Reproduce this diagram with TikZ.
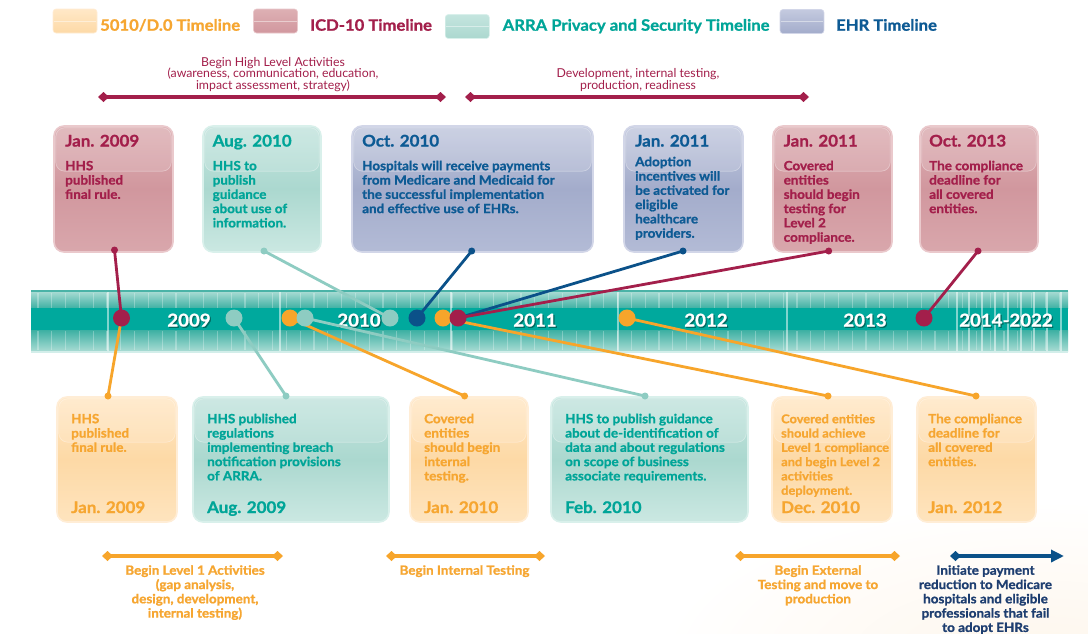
\documentclass[tikz,border=0pt]{standalone}
\usepackage{fontspec}
\setmainfont{Lato}[BoldFeatures={FakeBold=1.1,FakeStretch=1.06}]
\usetikzlibrary{arrows.meta,calc}
\newcommand{\tightls}{\lineskiplimit=-50pt\relax}

\definecolor{cRed}{HTML}{A31F4B}
\definecolor{cOrg}{HTML}{F6A631}
\definecolor{cTeal}{HTML}{00A598}
\definecolor{cBlue}{HTML}{0D5A94}
\definecolor{cNavy}{HTML}{1E3E70}
\definecolor{lnRed}{HTML}{A31F4B}
\definecolor{lnOrg}{HTML}{F7A52B}
\definecolor{lnTeal}{HTML}{8ECCC2}
\definecolor{lnBlue}{HTML}{0B5189}
\definecolor{rT}{HTML}{DDB0B4}
\definecolor{rM}{HTML}{D1979E}
\definecolor{rB}{HTML}{D9A7AC}
\definecolor{rE}{HTML}{EAC9CC}
\definecolor{tT}{HTML}{C5E5DF}
\definecolor{tM}{HTML}{ABD8CF}
\definecolor{tB}{HTML}{CBE8E2}
\definecolor{tE}{HTML}{D9F0EB}
\definecolor{bT}{HTML}{C4CADF}
\definecolor{bM}{HTML}{A3ACCB}
\definecolor{bB}{HTML}{B3BBD6}
\definecolor{bE}{HTML}{D2D6E8}
\definecolor{oT}{HTML}{FFE8C7}
\definecolor{oM}{HTML}{FDD9A6}
\definecolor{oB}{HTML}{FEE4BE}
\definecolor{oE}{HTML}{FFEDD6}
\definecolor{barM}{HTML}{00A99D}
\definecolor{barL}{HTML}{A8DBD3}
\definecolor{barD}{HTML}{3FB1A4}
\definecolor{barEdge}{HTML}{4AB3A7}
\definecolor{barBot}{HTML}{D3EEEA}
\definecolor{yrSh}{HTML}{006B62}
\definecolor{glow}{HTML}{FEF6EC}

\begin{document}
\begin{tikzpicture}[x=1pt,y=-1pt,
  box/.style={rectangle, rounded corners=10pt, inner sep=0pt, line width=1.6pt},
  boxR/.style={box, top color=rT, bottom color=rB, middle color=rM, draw=rE},
  boxT/.style={box, top color=tT, bottom color=tB, middle color=tM, draw=tE},
  boxB/.style={box, top color=bT, bottom color=bB, middle color=bM, draw=bE},
  boxO/.style={box, top color=oT, bottom color=oB, middle color=oM, draw=oE},
  topbox/.style={minimum height=126pt},
  botbox/.style={minimum height=125pt},
  gloss/.style={fill=white, fill opacity=.14, draw=white, draw opacity=.35, line width=.7pt, rounded corners=9pt},
  ttl/.style={font=\fontsize{16}{19}\selectfont\bfseries, inner sep=0pt, anchor=base west},
  body/.style={font=\fontsize{12.7}{14.3}\selectfont\bfseries\tightls, inner sep=0pt, anchor=north west, align=left},
  lbl/.style={font=\fontsize{12.7}{14.3}\selectfont\bfseries\tightls, inner sep=0pt, anchor=north, align=center},
  rng/.style={font=\fontsize{12.3}{11.7}\selectfont\tightls, inner sep=0pt, anchor=north, align=center, text=cRed},
  leg/.style={font=\fontsize{15.7}{18}\selectfont\bfseries, inner sep=0pt, anchor=base west},
  swatch/.style={rectangle, rounded corners=3pt, inner sep=0pt, minimum width=44pt, minimum height=24pt},
  yr/.style={font=\fontsize{17.6}{20}\selectfont\bfseries, inner sep=0pt, anchor=base},
  tdot/.style={circle, inner sep=0pt, minimum size=17pt, fill=#1},
  edot/.style={circle, inner sep=0pt, minimum size=7pt, fill=#1},
  conn/.style={line width=2.8pt, draw=#1},
  rngline/.style={line width=4pt, draw=#1, {Diamond[length=11pt,width=10pt]}-{Diamond[length=11pt,width=10pt]}},
  rngarrow/.style={line width=4pt, draw=#1, {Diamond[length=11pt,width=10pt]}-{Triangle[length=13pt,width=12pt]}}
]
\useasboundingbox (0,0) rectangle (1088,633);
\fill[white] (0,0) rectangle (1088,633);
\begin{scope}
  \clip (0,0) rectangle (1088,633);
  \shade[inner color=glow, outer color=white] (1040,660) ellipse[x radius=380pt, y radius=160pt];
\end{scope}

% ---------------- legend
\node[swatch, top color=oT, bottom color=oM, draw=oE, line width=.6pt] (sw1) at (75,21) {};
\node[swatch, top color=rT, bottom color=rM, draw=rE, line width=.6pt] (sw2) at (275.5,21) {};
\node[swatch, top color=tT, bottom color=tM, draw=tE, line width=.6pt] (sw3) at (467.3,26.5) {};
\node[swatch, top color=bT, bottom color=bM, draw=bE, line width=.6pt] (sw4) at (802,21.5) {};
\foreach \s in {sw1,sw2,sw3,sw4}{
  \draw[white, opacity=.45, line width=.8pt] ($(\s.west)+(1,0)$) -- ($(\s.east)+(-1,0)$);
}
\node[leg, text=cOrg] (lg1) at (100,30.7) {5010/D.0 Timeline};
\node[leg, text=cRed] (lg2) at (310,30.7) {ICD-10 Timeline};
\node[leg, text=cTeal] (lg3) at (502.5,30.7) {ARRA Privacy and Security Timeline};
\node[leg, text=cBlue] (lg4) at (836,30.7) {EHR Timeline};

% ---------------- top range lines
\node[rng] (rt1) at (273,56.8) {\strut Begin High Level Activities\\(awareness, communication, education,\\impact assessment, strategy)};
\node[rng] (rt2) at (638,68.3) {\strut Development, internal testing,\\production, readiness};
\coordinate (r1a) at (98,97);  \coordinate (r1b) at (446,97);
\coordinate (r2a) at (465,97); \coordinate (r2b) at (809,97);
\draw[rngline=cRed] (r1a) -- (r1b);
\draw[rngline=cRed] (r2a) -- (r2b);

% ---------------- top boxes
\node[boxR, topbox, minimum width=119pt] (T1) at (113.5,189) {};
\node[boxT, topbox, minimum width=118pt] (T2) at (262,189) {};
\node[boxB, topbox, minimum width=241pt] (T3) at (472.5,189) {};
\node[boxB, topbox, minimum width=119pt] (T4) at (683.5,189) {};
\node[boxR, topbox, minimum width=119pt] (T5) at (832.5,189) {};
\node[boxR, topbox, minimum width=118pt] (T6) at (979,189) {};
\foreach \b in {T1,T2,T3,T4,T5,T6}{
  \path[gloss] ($(\b.north west)+(2.5,2.5)$) rectangle ($(\b.north east)+(-2.5,46)$);
}
\node[ttl, text=cRed]  (T1h) at (65,146.5) {Jan. 2009};
\node[body, text=cRed] (T1x) at (65,160) {\strut HHS\\published\\final rule.};
\node[ttl, text=cTeal]  (T2h) at (212.5,146.5) {Aug. 2010};
\node[body, text=cTeal] (T2x) at (212.5,160) {\strut HHS to\\publish\\guidance\\about use of\\information.};
\node[ttl, text=cBlue]  (T3h) at (362,146.5) {Oct. 2010};
\node[body, text=cBlue] (T3x) at (362,160) {\strut Hospitals will receive payments\\from Medicare and Medicaid for\\the successful implementation\\and effective use of EHRs.};
\node[ttl, text=cBlue]  (T4h) at (635,146.5) {Jan. 2011};
\node[body, text=cBlue] (T4x) at (635,156) {\strut Adoption\\incentives will\\be activated for\\eligible\\healthcare\\providers.};
\node[ttl, text=cRed]  (T5h) at (783.5,146.5) {Jan. 2011};
\node[body, text=cRed] (T5x) at (783.5,160) {\strut Covered\\entities\\should begin\\testing for\\Level 2\\compliance.};
\node[ttl, text=cRed]  (T6h) at (929,146.5) {Oct. 2013};
\node[body, text=cRed] (T6x) at (929,160) {\strut The compliance\\deadline for\\all covered\\entities.};

% ---------------- bottom boxes
\node[boxO, botbox, minimum width=120pt] (B1) at (117,459.5) {};
\node[boxT, botbox, minimum width=196pt] (B2) at (291,459.5) {};
\node[boxO, botbox, minimum width=118pt] (B3) at (469,459.5) {};
\node[boxT, botbox, minimum width=197pt] (B4) at (649.5,459.5) {};
\node[boxO, botbox, minimum width=120pt] (B5) at (832,459.5) {};
\node[boxO, botbox, minimum width=119pt] (B6) at (976.5,459.5) {};
\foreach \b in {B1,B2,B3,B4,B5,B6}{
  \path[gloss] ($(\b.north west)+(2.5,2.5)$) rectangle ($(\b.north east)+(-2.5,46)$);
}
\node[body, text=cOrg] (B1x) at (71,413) {\strut HHS\\published\\final rule.};
\node[ttl, text=cOrg]  (B1h) at (71,513) {Jan. 2009};
\node[body, text=cTeal] (B2x) at (207,413) {\strut HHS published\\regulations\\implementing breach\\notification provisions\\of ARRA.};
\node[ttl, text=cTeal]  (B2h) at (207,513) {Aug. 2009};
\node[body, text=cOrg] (B3x) at (424,413) {\strut Covered\\entities\\should begin\\internal\\testing.};
\node[ttl, text=cOrg]  (B3h) at (424,513) {Jan. 2010};
\node[body, text=cTeal] (B4x) at (565,413) {\strut HHS to publish guidance\\about de-identification of\\data and about regulations\\on scope of business\\associate requirements.};
\node[ttl, text=cTeal]  (B4h) at (565,513) {Feb. 2010};
\node[body, text=cOrg, font=\fontsize{12.1}{14.3}\selectfont\bfseries\tightls] (B5x) at (781,413) {\strut Covered entities\\should achieve\\Level 1 compliance\\and begin Level 2\\activities\\deployment.};
\node[ttl, text=cOrg]  (B5h) at (781,513) {Dec. 2010};
\node[body, text=cOrg] (B6x) at (928,413) {\strut The compliance\\deadline for\\all covered\\entities.};
\node[ttl, text=cOrg]  (B6h) at (928,513) {Jan. 2012};

% ---------------- bottom range lines
\coordinate (s1a) at (102,556); \coordinate (s1b) at (283,556);
\coordinate (s2a) at (386,556); \coordinate (s2b) at (545,556);
\coordinate (s3a) at (735,556); \coordinate (s3b) at (900,556);
\coordinate (s4a) at (950,556); \coordinate (s4b) at (1064,556);
\draw[rngline=lnOrg] (s1a) -- (s1b);
\draw[rngline=lnOrg] (s2a) -- (s2b);
\draw[rngline=lnOrg] (s3a) -- (s3b);
\draw[rngarrow=lnBlue] (s4a) -- (s4b);
\node[lbl, text=cOrg] (S1t) at (195,564.5) {\strut Begin Level 1 Activities\\(gap analysis,\\design, development,\\internal testing)};
\node[lbl, text=cOrg] (S2t) at (464.5,564.5) {\strut Begin Internal Testing};
\node[lbl, text=cOrg] (S3t) at (818,564.5) {\strut Begin External\\Testing and move to\\production};
\node[lbl, text=cNavy] (S4t) at (985.5,564.5) {\strut Initiate payment\\reduction to Medicare\\hospitals and eligible\\professionals that fail\\to adopt EHRs};

% ---------------- timeline bar
\node[rectangle, inner sep=0pt, minimum width=1037pt, minimum height=63pt, fill=barL] (bar) at (549.5,321.5) {};
\shade[top color=barL, bottom color=barD] (31,291.5) rectangle (1068,308);
\fill[barM] (31,308) rectangle (1068,330.5);
\shade[top color=barD, bottom color=barL] (31,330.5) rectangle (1068,351);
\fill[barEdge] (31,290) rectangle (1068,291.5);
\fill[barBot] (31,351) rectangle (1068,353);
\foreach \x in {38,51.8,...,1060}{
  \draw[white, opacity=.28, line width=1.3pt] (\x,293) -- (\x,307.5);
  \draw[white, opacity=.28, line width=1.3pt] (\x,331) -- (\x,350);
}
\foreach \x in {108,280,451,618,787,957,969,982,995,1008,1021,1034,1047,1061}{
  \draw[white, opacity=.5, line width=2pt] (\x,292) -- (\x,351);
}
\node[yr, text=yrSh] (Y1s) at (190.2,327.8) {2009};
\node[yr, text=yrSh] (Y2s) at (360.2,327.8) {2010};
\node[yr, text=yrSh] (Y3s) at (536.2,327.8) {2011};
\node[yr, text=yrSh] (Y4s) at (707.2,327.8) {2012};
\node[yr, text=yrSh] (Y5s) at (866.2,327.8) {2013};
\node[yr, text=yrSh] (Y6s) at (1007.2,327.8) {2014-2022};
\node[yr, text=white] (Y1) at (189,326.5) {2009};
\node[yr, text=white] (Y2) at (359,326.5) {2010};
\node[yr, text=white] (Y3) at (535,326.5) {2011};
\node[yr, text=white] (Y4) at (706,326.5) {2012};
\node[yr, text=white] (Y5) at (865,326.5) {2013};
\node[yr, text=white] (Y6) at (1006,326.5) {2014-2022};

% ---------------- dot positions
\coordinate (p1) at (121.5,318);
\coordinate (p2) at (234,318);
\coordinate (p3) at (290,318);
\coordinate (p4) at (305,318);
\coordinate (p5) at (390,318);
\coordinate (p6) at (417,318);
\coordinate (p7) at (443,318);
\coordinate (p8) at (458,318);
\coordinate (p9) at (627,318);
\coordinate (p10) at (924,318);
\coordinate (eT1) at (114.5,250);
\coordinate (eT2) at (264,251);
\coordinate (eT3) at (471.7,251);
\coordinate (eT4) at (683,251);
\coordinate (eT5) at (828.7,251);
\coordinate (eT6) at (978,251);
\coordinate (eB1) at (108,396);
\coordinate (eB2) at (286,396);
\coordinate (eB3) at (464.6,396);
\coordinate (eB4) at (645,396);
\coordinate (eB5) at (828,396);
\coordinate (eB6) at (976,396);

% ---------------- connectors
\draw[conn=lnOrg]  (p1) -- (eB1);
\draw[conn=lnTeal] (p2) -- (eB2);
\draw[conn=lnOrg]  (p3) -- (eB3);
\draw[conn=lnTeal] (p4) -- (eB4);
\draw[conn=lnOrg]  (p7) -- (eB5);
\draw[conn=lnOrg]  (p9) -- (eB6);
\draw[conn=lnRed]  (eT1) -- (p1);
\draw[conn=lnTeal] (eT2) -- (p5);
\draw[conn=lnBlue] (eT3) -- (p6);
\draw[conn=lnBlue] (eT4) -- (p8);
\draw[conn=lnRed]  (eT5) -- (p8);
\draw[conn=lnRed]  (eT6) -- (p10);

% ---------------- end dots
\node[edot=lnRed]  (eT1d) at (eT1) {};
\node[edot=lnTeal] (eT2d) at (eT2) {};
\node[edot=lnBlue] (eT3d) at (eT3) {};
\node[edot=lnBlue] (eT4d) at (eT4) {};
\node[edot=lnRed]  (eT5d) at (eT5) {};
\node[edot=lnRed]  (eT6d) at (eT6) {};
\node[edot=lnOrg]  (eB1d) at (eB1) {};
\node[edot=lnTeal] (eB2d) at (eB2) {};
\node[edot=lnOrg]  (eB3d) at (eB3) {};
\node[edot=lnTeal] (eB4d) at (eB4) {};
\node[edot=lnOrg]  (eB5d) at (eB5) {};
\node[edot=lnOrg]  (eB6d) at (eB6) {};

% ---------------- timeline dots
\node[tdot=lnRed]  (d1) at (p1) {};
\node[tdot=lnTeal] (d2) at (p2) {};
\node[tdot=lnOrg]  (d3) at (p3) {};
\node[tdot=lnTeal] (d4) at (p4) {};
\node[tdot=lnTeal] (d5) at (p5) {};
\node[tdot=lnBlue] (d6) at (p6) {};
\node[tdot=lnOrg]  (d7) at (p7) {};
\node[tdot=lnRed]  (d8) at (p8) {};
\node[tdot=lnOrg]  (d9) at (p9) {};
\node[tdot=lnRed]  (d10) at (p10) {};
\end{tikzpicture}
\end{document}
